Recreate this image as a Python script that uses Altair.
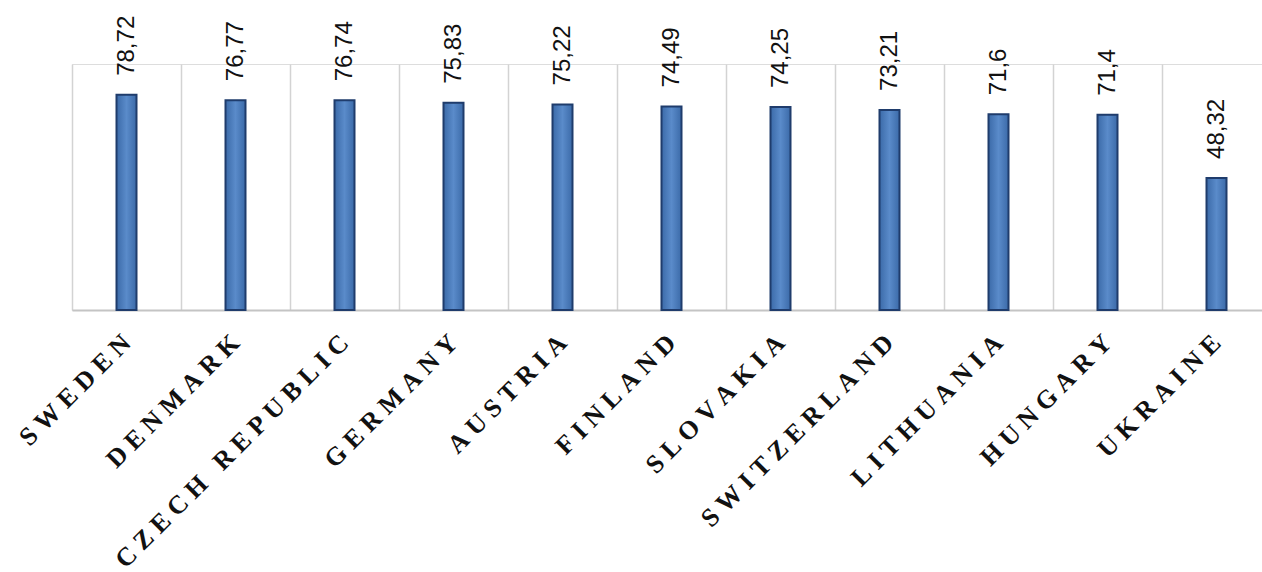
import altair as alt
import pandas as pd

countries = ["SWEDEN", "DENMARK", "CZECH REPUBLIC", "GERMANY", "AUSTRIA", "FINLAND",
             "SLOVAKIA", "SWITZERLAND", "LITHUANIA", "HUNGARY", "UKRAINE"]
scores = [78.72, 76.77, 76.74, 75.83, 75.22, 74.49, 74.25, 73.21, 71.6, 71.4, 48.32]

df = pd.DataFrame({"country": countries, "score": scores})

x = alt.X(
    "country:N",
    sort=countries,
    scale=alt.Scale(range=[0, 1199], paddingInner=0, paddingOuter=0),
    axis=alt.Axis(
        title=None,
        ticks=False,
        grid=True,
        bandPosition=0,
        gridColor="#d3d3d3",
        gridWidth=1.5,
        domainColor="#c4c4c4",
        domainWidth=2,
        labels=False,
    ),
)
y = alt.Y("score:Q", scale=alt.Scale(domain=[0, 90]), axis=None)

bar_fill = alt.Gradient(
    gradient="linear",
    x1=0, x2=1, y1=0, y2=0,
    stops=[
        alt.GradientStop(color="#3b6aa8", offset=0),
        alt.GradientStop(color="#5a8bca", offset=0.5),
        alt.GradientStop(color="#3b6aa8", offset=1),
    ],
)

bars = alt.Chart(df).mark_bar(
    size=20, fill=bar_fill, stroke="#1f3c6c", strokeWidth=2
).encode(x=x, y=y)

labels = alt.Chart(df).transform_calculate(
    txt="replace(toString(datum.score), '.', ',')"
).mark_text(
    angle=270, align="left", baseline="middle", dx=19,
    font="Liberation Sans", fontSize=24, color="#111111"
).encode(x=x, y=y, text="txt:N")

# country names, spread out letter by letter, under the baseline
names = alt.Chart(df).transform_calculate(
    spaced="join(split(datum.country, ''), '\u2005')"
).mark_text(
    angle=315, align="right", baseline="middle",
    font="Liberation Serif", fontWeight="bold", fontSize=26, color="#111111"
).encode(
    x=x,
    y=alt.value(275),
    text="spaced:N",
)

chart = (bars + labels + names).properties(
    width=1190,
    height=246,
    padding={"left": 72, "top": 64, "right": 0, "bottom": 262},
    autosize=alt.AutoSizeParams(type="none"),
).configure_view(stroke=None).configure(background="white")

chart.save("out.html", embed_options={"renderer": "svg", "actions": False})
